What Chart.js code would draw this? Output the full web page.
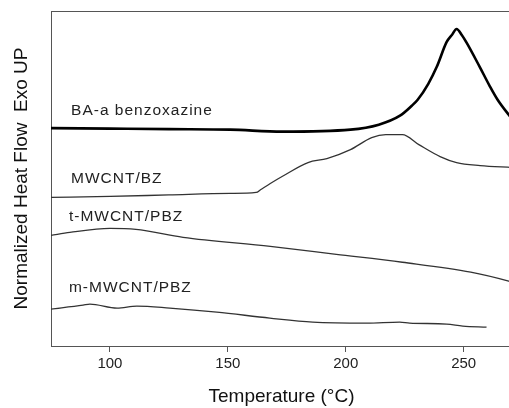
<!DOCTYPE html>
<html>
<head>
<meta charset="utf-8">
<script src="https://cdn.jsdelivr.net/npm/chart.js@4.4.1/dist/chart.umd.min.js"></script>
<style>
  html, body { margin: 0; padding: 0; background: #fff; overflow: hidden; }
  #wrap { width: 512px; height: 408px; }
</style>
</head>
<body>
<div id="wrap"><canvas id="dsc"></canvas></div>
<script>
// DSC curves, heat flow in arbitrary (normalized) units, exo up
const baT   = [75, 100, 125, 151, 173, 202, 214, 223, 228, 230.5, 235, 238.6, 242.8, 245, 247, 249.2, 251.3, 256.8, 261, 264.4, 269.1, 270.5];
const baHF  = [218.5, 218, 217.5, 217, 215, 217, 222, 231, 241, 247, 263, 280, 305, 312, 318, 312, 304, 280, 261, 247, 232, 228];

const bzT   = [75, 100, 125, 151, 162, 164, 168, 173, 184, 192, 202, 211, 217, 224, 231, 240, 247, 257, 270.5];
const bzHF  = [149, 150, 151.5, 153, 154, 157, 163, 170, 184, 188, 197, 209, 212, 212, 202, 190, 184, 181, 179];

const tT    = [75, 83, 100, 111, 131, 168, 196, 224, 253, 269.1, 270.5];
const tHF   = [111, 114, 118, 117, 109, 100, 92, 84, 74, 65, 64];

const mT    = [75, 88.6, 91.5, 103, 111.4, 125.4, 145.3, 167.8, 186, 208.9, 222.9, 227.1, 242.8, 249.6, 259.7];
const mHF   = [37, 41, 42, 38, 40, 38, 34, 28, 24, 23, 24, 23, 22, 20, 19];

const names  = ['BA-a benzoxazine', 'MWCNT/BZ', 't-MWCNT/PBZ', 'm-MWCNT/PBZ'];
const labelT = [83.5, 83.5, 82.6, 82.6];
const labelHF = [232, 163, 125, 54];

const xTicks = [100, 150, 200, 250];

function pts(xs, ys) { return xs.map((x, i) => ({ x: x, y: ys[i] })); }

// frame line on top + curve names
const extras = {
  id: 'extras',
  afterDraw(chart) {
    const { ctx, chartArea, scales } = chart;
    ctx.save();
    ctx.strokeStyle = '#555';
    ctx.lineWidth = 1;
    ctx.beginPath();
    ctx.moveTo(chartArea.left, chartArea.top + 0.5);
    ctx.lineTo(chartArea.right, chartArea.top + 0.5);
    ctx.stroke();
    ctx.fillStyle = '#222';
    ctx.font = '15.5px Arial, "Liberation Sans", sans-serif';
    ctx.letterSpacing = '1px';
    ctx.textBaseline = 'alphabetic';
    names.forEach((n, i) => {
      ctx.fillText(n, scales.x.getPixelForValue(labelT[i]), scales.y.getPixelForValue(labelHF[i]));
    });
    ctx.restore();
  }
};

const lineStyle = { pointRadius: 0, fill: false, cubicInterpolationMode: 'monotone' };

new Chart(document.getElementById('dsc'), {
  type: 'line',
  data: {
    datasets: [
      Object.assign({ label: names[0], data: pts(baT, baHF), borderColor: '#000', borderWidth: 2.6 }, lineStyle),
      Object.assign({ label: names[1], data: pts(bzT, bzHF), borderColor: '#333', borderWidth: 1.3 }, lineStyle),
      Object.assign({ label: names[2], data: pts(tT, tHF), borderColor: '#333', borderWidth: 1.3 }, lineStyle),
      Object.assign({ label: names[3], data: pts(mT, mHF), borderColor: '#333', borderWidth: 1.3 }, lineStyle)
    ]
  },
  options: {
    responsive: true,
    maintainAspectRatio: false,
    animation: false,
    layout: { padding: { top: 11, right: 0, bottom: 0, left: 0 } },
    plugins: { legend: { display: false }, tooltip: { enabled: false } },
    scales: {
      x: {
        type: 'linear',
        min: 75,
        max: 270.5,
        afterBuildTicks: (s) => { s.ticks = xTicks.map(v => ({ value: v })); },
        afterFit: (s) => { s.height = 62; },
        grid: { drawOnChartArea: false, drawTicks: true, tickLength: 6, color: '#555' },
        border: { display: true, color: '#555', width: 1 },
        ticks: { color: '#222', font: { family: 'Arial, "Liberation Sans", sans-serif', size: 15 }, padding: 3, maxRotation: 0 },
        title: { display: true, text: 'Temperature (°C)', color: '#111', font: { family: 'Arial, "Liberation Sans", sans-serif', size: 19 }, padding: { top: 0, bottom: 0 } }
      },
      y: {
        min: 0,
        max: 336,
        afterFit: (s) => { s.width = 51; },
        grid: { display: false },
        border: { display: true, color: '#555', width: 1 },
        ticks: { display: false },
        title: { display: true, text: 'Normalized Heat Flow  Exo UP', color: '#111', font: { family: 'Arial, "Liberation Sans", sans-serif', size: 19 }, padding: { top: 10, bottom: 0 } }
      }
    }
  },
  plugins: [extras]
});
</script>
</body>
</html>
